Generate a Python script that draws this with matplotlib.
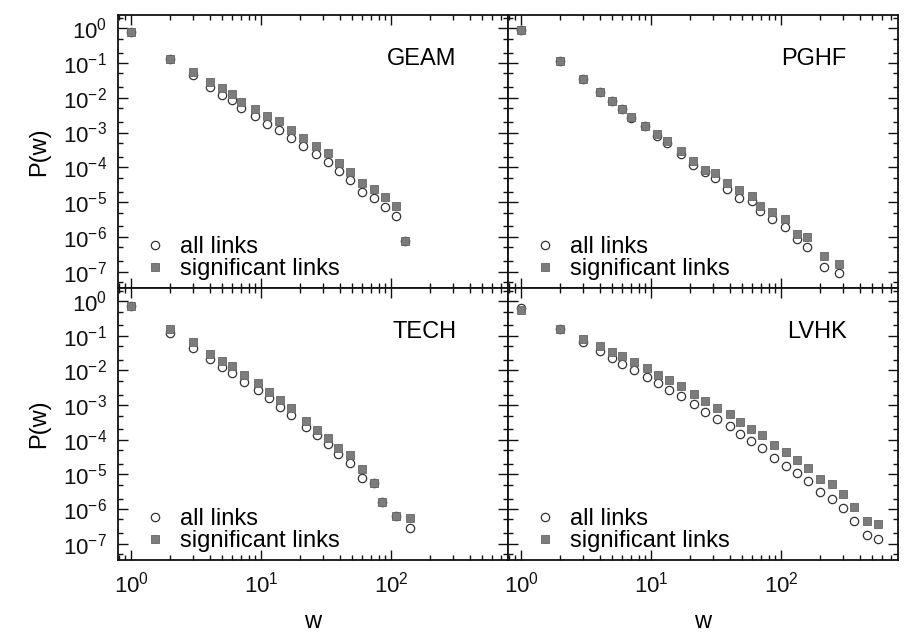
"""Weight distributions P(w), all links vs significant links, four panels."""
import matplotlib
matplotlib.use("Agg")
import numpy as np
import matplotlib.pyplot as plt
from matplotlib.ticker import FixedLocator, FixedFormatter, LogLocator, NullFormatter

plt.rcParams['font.family'] = ['Liberation Sans', 'DejaVu Sans']

# --- data ----------------------------------------------------------------
geam_w = [1, 2, 3, 4, 5, 6, 7, 9, 11, 13.6, 16.9, 21, 26.5, 32.6, 39.4, 48.5, 60, 73, 89, 109, 127]
geam_all = [7.9e-1, 1.32e-1, 4.6e-2, 2.04e-2, 1.23e-2, 8.5e-3, 5.0e-3, 2.9e-3, 1.8e-3, 1.15e-3,
            6.9e-4, 4.0e-4, 2.4e-4, 1.45e-4, 7.8e-5, 4.3e-5, 2.0e-5, 1.3e-5, 7.1e-6, 4.1e-6, 7.6e-7]
geam_sig = [7.9e-1, 1.32e-1, 5.4e-2, 2.8e-2, 1.86e-2, 1.29e-2, 7.8e-3, 4.8e-3, 2.95e-3, 2.1e-3,
            1.2e-3, 7.2e-4, 4.2e-4, 2.6e-4, 1.35e-4, 7.4e-5, 3.55e-5, 2.4e-5, 1.38e-5, 7.8e-6, 7.6e-7]

pghf_w = [1, 2, 3, 4, 5, 6, 7, 9, 11, 13.3, 17, 21, 26, 31, 38, 47, 59, 69, 85, 106, 132, 158, 213, 277]
pghf_all = [8.9e-1, 1.17e-1, 3.4e-2, 1.45e-2, 7.9e-3, 4.8e-3, 2.6e-3, 1.55e-3, 7.8e-4, 5.1e-4,
            2.4e-4, 1.17e-4, 7.1e-5, 5.0e-5, 2.45e-5, 1.3e-5, 1.05e-5, 5.5e-6, 3.2e-6, 1.9e-6,
            8.5e-7, 5.0e-7, 1.4e-7, 8.9e-8]
pghf_sig = [8.9e-1, 1.17e-1, 3.4e-2, 1.45e-2, 7.9e-3, 4.8e-3, 2.75e-3, 1.55e-3, 9.3e-4, 5.75e-4,
            2.95e-4, 1.55e-4, 8.3e-5, 6.8e-5, 3.6e-5, 2.3e-5, 1.45e-5, 7.9e-6, 5.1e-6, 3.2e-6,
            1.23e-6, 9.8e-7, 2.75e-7, 1.7e-7]

tech_w = [1, 2, 3, 4, 5, 6, 7.4, 9.4, 11.5, 13.9, 17, 22, 27, 32.5, 39, 48, 60, 73, 85, 108, 140]
tech_all = [7.1e-1, 1.17e-1, 4.6e-2, 2.2e-2, 1.23e-2, 8.3e-3, 4.7e-3, 2.7e-3, 1.62e-3, 8.7e-4,
            5.25e-4, 2.3e-4, 1.38e-4, 7.4e-5, 3.8e-5, 2.2e-5, 8.1e-6, 5.75e-6, 1.58e-6, 6.2e-7, 2.75e-7]
tech_sig = [7.1e-1, 1.55e-1, 6.6e-2, 3.0e-2, 1.9e-2, 1.32e-2, 7.4e-3, 4.3e-3, 2.4e-3, 1.38e-3,
            8.3e-4, 3.4e-4, 1.9e-4, 1.15e-4, 5.6e-5, 3.7e-5, 1.45e-5, 5.75e-6, 1.58e-6, 6.2e-7, 5.4e-7]

lvhk_w = [1, 2, 3, 4, 5, 6, 7.4, 9.3, 11.2, 13.7, 17, 21.4, 26, 32, 40, 48, 58, 71, 88, 109,
          131, 161, 198, 244, 300, 365, 453, 557]
lvhk_all = [6.3e-1, 1.58e-1, 6.6e-2, 3.6e-2, 2.3e-2, 1.58e-2, 1.05e-2, 6.5e-3, 4.3e-3, 2.7e-3,
            1.78e-3, 1.07e-3, 6.5e-4, 3.9e-4, 2.45e-4, 1.5e-4, 9.1e-5, 5.6e-5, 2.9e-5, 1.78e-5,
            1.07e-5, 6.5e-6, 3.1e-6, 2.0e-6, 1.07e-6, 4.4e-7, 1.78e-7, 1.38e-7]
lvhk_sig = [5.5e-1, 1.58e-1, 8.3e-2, 5.25e-2, 3.5e-2, 2.6e-2, 1.7e-2, 1.15e-2, 7.6e-3, 5.25e-3,
            3.5e-3, 2.1e-3, 1.35e-3, 8.5e-4, 5.5e-4, 3.2e-4, 2.1e-4, 1.38e-4, 7.1e-5, 4.3e-5,
            2.6e-5, 1.55e-5, 7.6e-6, 5.4e-6, 2.7e-6, 1.12e-6, 4.6e-7, 3.6e-7]

panel_names = ['GEAM', 'PGHF', 'TECH', 'LVHK']
y_exponents = [0, -1, -2, -3, -4, -5, -6, -7]
x_exponents = [0, 1, 2]
legend_labels = ['all links', 'significant links']

panels = [
    (geam_w, geam_all, geam_sig),
    (pghf_w, pghf_all, pghf_sig),
    (tech_w, tech_all, tech_sig),
    (lvhk_w, lvhk_all, lvhk_sig),
]

# --- figure ---------------------------------------------------------------
W, H = 906, 632
fig = plt.figure(figsize=(W / 100, H / 100), dpi=100)

# pixel boxes (left, top, right, bottom)
boxes = [(118, 15, 508, 288), (508, 15, 898, 288),
         (118, 288, 508, 560), (508, 288, 898, 560)]

SQ_GREY = '#7c7c7c'
for i, (box, (w, p_all, p_sig)) in enumerate(zip(boxes, panels)):
    l, t, r, b = box
    ax = fig.add_axes([l / W, 1 - b / H, (r - l) / W, (b - t) / H])
    ax.set_xscale('log')
    ax.set_yscale('log')

    ax.plot(w, p_all, linestyle='none', marker='o', markersize=6,
            markerfacecolor='white', markeredgecolor='#333333', markeredgewidth=0.9,
            label=legend_labels[0])
    ax.plot(w, p_sig, linestyle='none', marker='s', markersize=5.5,
            markerfacecolor=SQ_GREY, markeredgecolor='#666666', markeredgewidth=0.6,
            label=legend_labels[1])

    ax.set_xlim(0.79, 790)
    ax.set_ylim(10 ** -7.47, 10 ** 0.38)

    ax.yaxis.set_major_locator(FixedLocator([10.0 ** e for e in y_exponents]))
    ax.xaxis.set_major_locator(FixedLocator([10.0 ** e for e in x_exponents]))
    ax.yaxis.set_minor_locator(LogLocator(base=10, subs=(2, 5), numticks=100))
    ax.xaxis.set_minor_locator(LogLocator(base=10, subs=np.arange(2, 10), numticks=100))
    ax.yaxis.set_minor_formatter(NullFormatter())
    ax.xaxis.set_minor_formatter(NullFormatter())
    if i % 2 == 0:
        ax.yaxis.set_major_formatter(FixedFormatter(
            [r'$\mathregular{10^{%d}}$' % e for e in y_exponents]))
        ax.set_ylabel('P(w)', fontsize=17, labelpad=9)
    else:
        ax.set_yticklabels([])
    if i >= 2:
        ax.xaxis.set_major_formatter(FixedFormatter(
            [r'$\mathregular{10^{%d}}$' % e for e in x_exponents]))
        ax.set_xlabel('w', fontsize=17, labelpad=10)
    else:
        ax.set_xticklabels([])

    ax.tick_params(which='both', direction='in', top=True, right=True,
                   labelsize=16, width=1.0, colors='#111111')
    ax.tick_params(which='major', length=7, pad=8)
    ax.tick_params(which='minor', length=3.5)
    for s in ax.spines.values():
        s.set_linewidth(1.3)
        s.set_color('#111111')

    ax.text(0.868, 0.84, panel_names[i], transform=ax.transAxes,
            ha='right', va='center', fontsize=17)

    ax.legend(loc='lower left', bbox_to_anchor=(0.064, 0.03), frameon=False,
              fontsize=17, handlelength=1.0, handletextpad=0.55,
              labelspacing=-0.02, borderpad=0, borderaxespad=0, numpoints=1)

fig.savefig('out.png', dpi=100, facecolor='white')
